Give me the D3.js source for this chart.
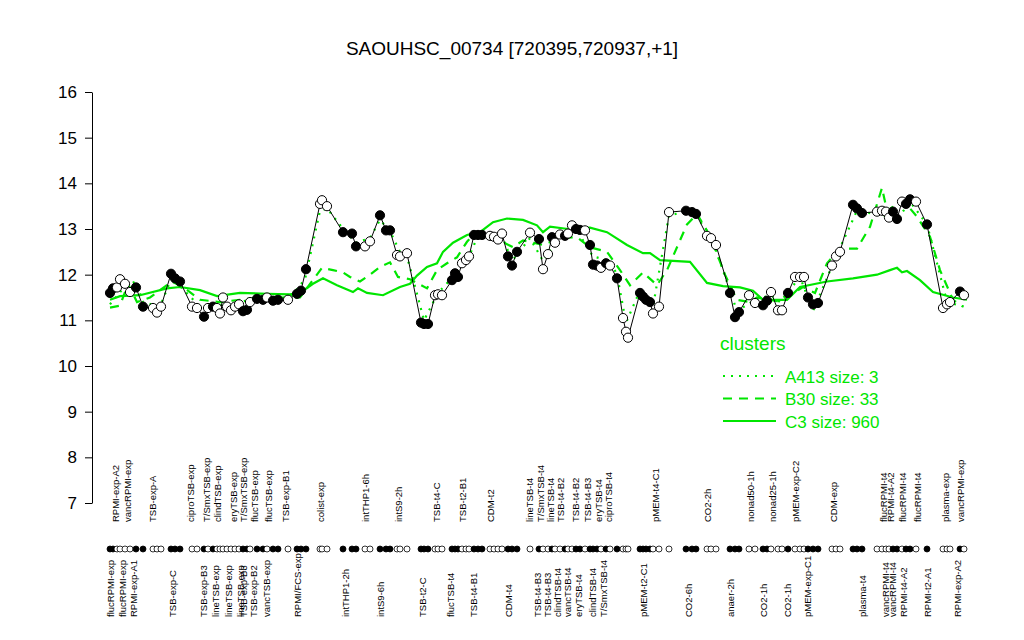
<!DOCTYPE html>
<html><head><meta charset="utf-8">
<script src="https://cdn.jsdelivr.net/npm/d3@7"></script>
<style>body{margin:0;background:#fff}svg{display:block;font-family:"Liberation Sans",Arial,sans-serif}</style>
</head><body><svg id="c" width="1024" height="640"></svg>
<script>
const title = "SAOUHSC_00734 [720395,720937,+1]";
const yTicks = [7,8,9,10,11,12,13,14,15,16];
// sample positions along the axis, expression values and marker fill (1 = filled)
const samplePos = [110,113,117,120,125,130,136,143,153,157,161,171,175,180,192,197,204,208,213,217,220,223,227,231,235,239,243,247,250,257,263,267,273,278,288,297,301,306,320,322,327,343,352,356,365,370,380,386,390,397,400,407,421,424,428,435,438,442,452,455,458,462,466,469,474,478,482,490,494,498,502,508,512,517,530,539,543,548,552,555,560,565,568,572,576,580,585,590,593,597,601,606,610,617,623,626,628,640,643,646,650,653,659,669,686,692,696,707,711,716,730,735,739,749,755,763,767,771,778,782,788,795,800,804,808,813,818,832,836,840,853,857,862,877,882,886,889,893,897,902,906,910,916,927,943,947,950,960,964];
const sampleValue = [11.6,11.7,11.72,11.9,11.8,11.62,11.72,11.3,11.27,11.17,11.3,12.02,11.92,11.85,11.3,11.27,11.08,11.27,11.3,11.27,11.15,11.5,11.3,11.22,11.3,11.35,11.2,11.23,11.4,11.47,11.45,11.5,11.43,11.45,11.45,11.58,11.65,12.12,13.55,13.63,13.5,12.93,12.9,12.62,12.62,12.73,13.3,12.97,12.97,12.43,12.4,12.47,10.95,10.92,10.92,11.55,11.57,11.55,11.88,12.03,11.95,12.25,12.32,12.4,12.87,12.87,12.87,12.85,12.83,12.77,12.9,12.4,12.2,12.5,12.92,12.78,12.12,12.45,12.82,12.7,12.88,12.85,12.9,13.08,13.0,12.98,12.97,12.65,12.22,12.2,12.15,12.25,12.2,11.92,11.05,10.75,10.62,11.6,11.52,11.45,11.4,11.15,11.3,13.37,13.4,13.37,13.33,12.85,12.8,12.65,11.6,11.07,11.18,11.55,11.38,11.33,11.43,11.62,11.22,11.22,11.6,11.95,11.95,11.95,11.5,11.35,11.38,12.2,12.4,12.5,13.53,13.45,13.35,13.38,13.4,13.38,13.25,13.38,13.22,13.6,13.55,13.65,13.6,13.1,11.27,11.35,11.4,11.63,11.55];
const sampleFilled = [1,1,0,0,0,0,1,1,0,0,0,1,1,1,0,0,1,0,1,0,0,0,0,0,0,0,1,1,0,1,1,0,1,1,0,1,1,1,0,0,0,1,1,1,0,0,1,1,1,0,0,0,1,1,1,0,0,0,1,1,1,0,0,0,1,1,1,0,0,0,0,1,1,1,0,1,0,0,1,0,0,1,0,0,1,1,0,1,1,1,0,1,0,1,0,0,0,1,1,1,1,0,0,0,1,1,1,0,0,0,1,1,1,0,0,1,1,0,0,0,1,0,0,0,1,1,1,0,0,0,1,1,1,0,0,0,0,1,1,0,1,1,0,1,0,0,0,1,0];
// cluster mean profiles [position, value]
const clusterC3 = [[110,11.45],[120,11.53],[140,11.55],[167,11.7],[180,11.73],[200,11.66],[217,11.53],[240,11.6],[267,11.58],[290,11.57],[300,11.6],[313,11.8],[323,11.92],[337,11.77],[353,11.62],[358,11.7],[367,11.6],[383,11.55],[400,11.73],[410,11.8],[417,11.98],[427,12.17],[437,12.25],[443,12.5],[453,12.7],[467,12.87],[480,12.93],[493,13.15],[507,13.23],[523,13.2],[537,13.08],[543,12.93],[550,13.05],[568,13.0],[590,13.03],[607,12.93],[627,12.65],[643,12.47],[650,12.47],[660,12.32],[690,12.28],[707,11.82],[723,11.75],[740,11.72],[753,11.65],[763,11.45],[787,11.45],[800,11.73],[827,11.85],[853,11.92],[877,12.0],[890,12.1],[897,12.15],[902,12.05],[907,12.08],[920,11.88],[933,11.62],[953,11.5],[967,11.45]];
const clusterB30 = [[110,11.28],[120,11.32],[128,11.8],[137,11.4],[150,11.5],[172,11.85],[185,11.7],[200,11.45],[220,11.4],[240,11.45],[260,11.5],[280,11.5],[300,11.5],[322,12.15],[333,12.1],[343,12.05],[350,11.95],[360,11.85],[370,12.0],[380,12.17],[390,12.27],[398,11.95],[410,11.9],[427,11.7],[437,12.1],[447,12.25],[457,12.38],[467,12.72],[473,12.87],[490,12.85],[513,12.6],[523,12.75],[543,12.65],[560,12.8],[577,12.82],[590,12.6],[607,12.5],[620,12.1],[630,11.77],[643,12.05],[657,11.77],[667,12.1],[677,12.6],[687,13.1],[697,13.33],[710,12.85],[725,12.0],[737,11.45],[750,11.4],[757,11.5],[777,11.42],[790,11.55],[803,11.73],[815,11.6],[827,12.25],[840,12.57],[857,12.57],[870,13.05],[882,13.9],[887,13.4],[903,13.63],[917,13.27],[930,12.83],[940,12.1],[953,11.45],[963,11.3]];
const clusterA413 = [[110,11.35],[125,11.75],[136,11.85],[143,11.4],[160,11.3],[172,11.95],[180,11.75],[200,11.3],[230,11.35],[260,11.5],[290,11.5],[305,11.9],[320,13.4],[327,13.45],[345,12.95],[356,12.7],[370,12.8],[380,13.2],[390,12.95],[400,12.5],[407,12.4],[424,11.0],[438,11.6],[455,12.0],[469,12.4],[478,12.85],[502,12.85],[512,12.3],[530,12.8],[543,12.3],[560,12.85],[576,13.0],[593,12.4],[610,12.3],[617,12.0],[626,10.95],[640,11.65],[653,11.3],[669,13.3],[692,13.4],[711,12.85],[730,11.65],[737,11.2],[755,11.45],[771,11.55],[780,11.4],[800,11.95],[813,11.2],[836,12.4],[857,13.4],[882,13.3],[897,13.2],[910,13.6],[927,13.1],[947,11.4],[964,11.3]];
const legendNames = ["A413 size: 3","B30 size: 33","C3 size: 960"];
// axis labels: [text, position]
const labelsBelow = [["flucRPMI-exp",110],["flucRPMI-exp",122],["RPMI-exp-A1",133],["TSB-exp-C",172],["TSB-exp-B3",203],["lineTSB-exp",215],["lineTSB-exp",228],["lineTSB-exp",240],["TSB-exp-B3",243],["TSB-exp-B2",253],["vancTSB-exp",266],["RPMI/FCS-exp",297],["intTHP1-2h",345],["intS9-6h",380],["TSB-t2-C",422],["flucTSB-t4",450],["TSB-t4-B1",473],["CDM-t4",508],["TSB-t4-B3",537],["TSB-t4-B3",547],["clindTSB-t4",557],["vancTSB-t4",567],["eryTSB-t4",578],["clindTSB-t4",592],["T/SmxTSB-t4",603],["pMEM-t2-C1",643],["CO2-6h",688],["anaer-2h",730],["CO2-1h",763],["CO2-1h",787],["pMEM-exp-C1",807],["plasma-t4",862],["vancRPMI-t4",885],["vancRPMI-t4",892],["RPMI-t4-A2",903],["RPMI-t2-A1",927],["RPMI-exp-A2",957]];
const labelsAbove = [["RPMI-exp-A2",115],["vancRPMI-exp",127],["TSB-exp-A",152],["ciproTSB-exp",190],["T/SmxTSB-exp",206],["clindTSB-exp",217],["eryTSB-exp",233],["T/SmxTSB-exp",243],["flucTSB-exp",254],["flucTSB-exp",268],["TSB-exp-B1",285],["colist-exp",320],["intTHP1-6h",365],["intS9-2h",398],["TSB-t4-C",436],["TSB-t2-B1",462],["CDM-t2",490],["lineTSB-t4",529],["T/SmxTSB-t4",540],["lineTSB-t4",550],["TSB-t4-B2",560],["TSB-t4-B2",575],["TSB-t4-B3",587],["eryTSB-t4",598],["ciproTSB-t4",608],["pMEM-t4-C1",655],["CO2-2h",707],["nonad50-1h",750],["nonad25-1h",772],["pMEM-exp-C2",795],["CDM-exp",833],["flucRPMI-t4",883],["RPMI-t4-A2",890],["flucRPMI-t4",902],["flucRPMI-t4",917],["plasma-exp",945],["vancRPMI-exp",960]];

const green = "#00e600";
const svg = d3.select("#c");
const x = d3.scaleLinear().domain([92, 975]).range([92, 975]);
const y = d3.scaleLinear().domain([7, 16]).range([503, 92]);

svg.append("text").attr("x", 512).attr("y", 55).attr("text-anchor", "middle")
  .attr("font-size", 19).text(title);

const yAxis = svg.append("g").attr("transform", "translate(92,0)")
  .call(d3.axisLeft(y).tickValues(yTicks).tickSize(7).tickPadding(8).tickSizeOuter(0));
yAxis.select(".domain").attr("stroke", "#000");
yAxis.selectAll("text").attr("font-size", 17).attr("font-family", "Liberation Sans, Arial, sans-serif").attr("fill", "#000");

const pts = samplePos.map((p, i) => ({p, v: sampleValue[i], f: sampleFilled[i]}));
const line = d3.line().x(d => x(d[0])).y(d => y(d[1]));

svg.append("path").datum(clusterC3).attr("d", line).attr("fill", "none").attr("stroke", green).attr("stroke-width", 2.2);
svg.append("path").datum(clusterB30).attr("d", line).attr("fill", "none").attr("stroke", green).attr("stroke-width", 2.2).attr("stroke-dasharray", "9,7");
svg.append("path").datum(clusterA413).attr("d", line).attr("fill", "none").attr("stroke", green).attr("stroke-width", 2.2).attr("stroke-dasharray", "2,6");

svg.append("path").datum(pts.map(d => [d.p, d.v])).attr("d", line).attr("fill", "none").attr("stroke", "#000").attr("stroke-width", 1);
svg.append("g").selectAll("circle").data(pts).join("circle")
  .attr("cx", d => x(d.p)).attr("cy", d => y(d.v)).attr("r", 4.6)
  .attr("fill", d => d.f ? "#000" : "#fff").attr("stroke", "#000").attr("stroke-width", 1);

// tick row of markers
svg.append("g").selectAll("circle").data(pts).join("circle")
  .attr("cx", d => x(d.p)).attr("cy", 549).attr("r", 3)
  .attr("fill", d => d.f ? "#000" : "#fff").attr("stroke", "#000").attr("stroke-width", 0.8);

const lab = svg.append("g").attr("font-size", 9.5);
lab.selectAll("text.b").data(labelsBelow).join("text").attr("class", "b")
  .attr("transform", d => `translate(${x(d[1]) + 3.5},617) rotate(-90)`).text(d => d[0]);
lab.selectAll("text.a").data(labelsAbove).join("text").attr("class", "a")
  .attr("transform", d => `translate(${x(d[1]) + 3.5},522) rotate(-90)`).text(d => d[0]);

// legend
const lg = svg.append("g").attr("fill", green);
lg.append("text").attr("x", 720).attr("y", 350).attr("font-size", 19).text("clusters");
const dashes = ["2,6", "9,7", null];
legendNames.forEach((n, i) => {
  const yy = 376 + i * 22.5;
  const l = lg.append("line").attr("x1", 723).attr("x2", 776).attr("y1", yy).attr("y2", yy)
    .attr("stroke", green).attr("stroke-width", 2.2);
  if (dashes[i]) l.attr("stroke-dasharray", dashes[i]);
  lg.append("text").attr("x", 785).attr("y", yy + 6.5).attr("font-size", 17).text(n);
});
</script></body></html>
